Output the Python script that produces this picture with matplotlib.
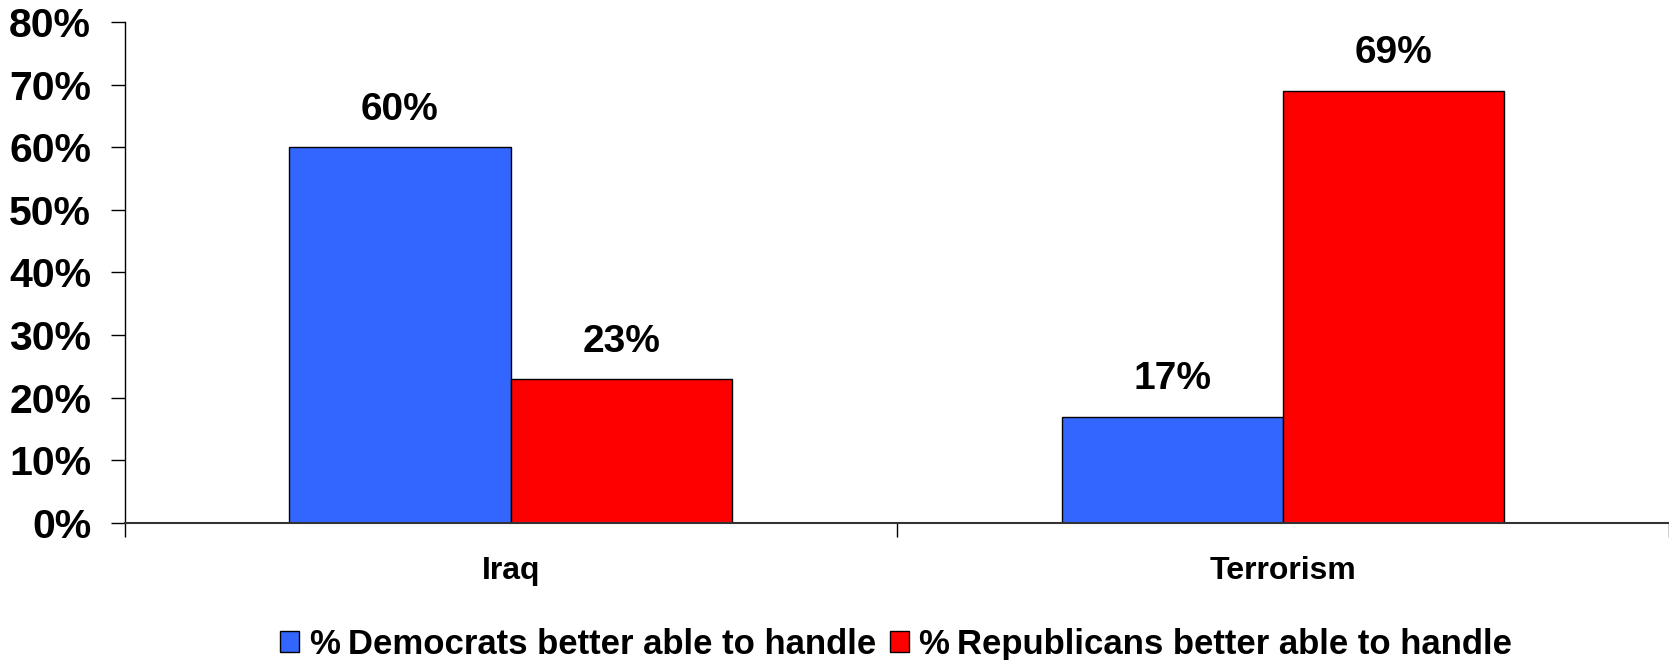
import matplotlib
matplotlib.use("Agg")
import matplotlib.pyplot as plt
import numpy as np
from matplotlib.patches import Patch

categories = ["Iraq", "Terrorism"]
dem_values = [60, 17]
rep_values = [23, 69]
series_names = ["%\u2009Democrats better able to handle", "%\u2009Republicans better able to handle"]
yticks = [0, 10, 20, 30, 40, 50, 60, 70, 80]
ytick_labels = ["0%", "10%", "20%", "30%", "40%", "50%", "60%", "70%", "80%"]

blue = "#3366FF"
red = "#FF0000"

plt.rcParams['font.family'] = ['Liberation Sans', 'DejaVu Sans']
fig = plt.figure(figsize=(16.69, 6.6), dpi=100)
ax = fig.add_axes([0.0746, 0.2076, 0.9254, 0.7591])

x = np.arange(len(categories))
w = 0.2866
b1 = ax.bar(x - w/2, dem_values, w, color=blue, edgecolor="black", linewidth=1)
b2 = ax.bar(x + w/2, rep_values, w, color=red, edgecolor="black", linewidth=1)

for bars, vals in ((b1, dem_values), (b2, rep_values)):
    for r, v in zip(bars, vals):
        ax.annotate(f"{v}%", (r.get_x() + r.get_width()/2, v), xytext=(0, 14),
                    textcoords="offset points", ha="center", va="bottom",
                    fontsize=28, fontweight="bold")

ax.set_xlim(-0.5, 1.5)
ax.set_ylim(0, 80)
ax.set_yticks(yticks)
ax.set_yticklabels(ytick_labels, fontsize=29.5, fontweight="bold")
ax.tick_params(axis="y", length=10, width=1, pad=14, direction="out")

ax.set_xticks([-0.5, 0.5, 1.5])
ax.set_xticklabels([])
ax.set_xticks(x, minor=True)
ax.set_xticklabels(categories, minor=True, fontsize=23, fontweight="bold")
ax.tick_params(axis="x", which="major", length=10, width=1, direction="out")
ax.tick_params(axis="x", which="minor", length=0, pad=24)

for s in ("top", "right"):
    ax.spines[s].set_visible(False)
ax.spines["left"].set_linewidth(1)
ax.spines["bottom"].set_linewidth(1.5)
ax.spines["bottom"].set_color("#333333")

handles = [Patch(facecolor=blue, edgecolor="black", linewidth=1),
           Patch(facecolor=red, edgecolor="black", linewidth=1)]
fig.legend(handles, series_names, loc="center", bbox_to_anchor=(0.537, 0.024),
           ncol=2, frameon=False, prop={"size": 25, "weight": "bold"},
           handlelength=0.55, handleheight=0.55, handletextpad=0.3, columnspacing=0.4)

fig.savefig("out.png", dpi=100)
